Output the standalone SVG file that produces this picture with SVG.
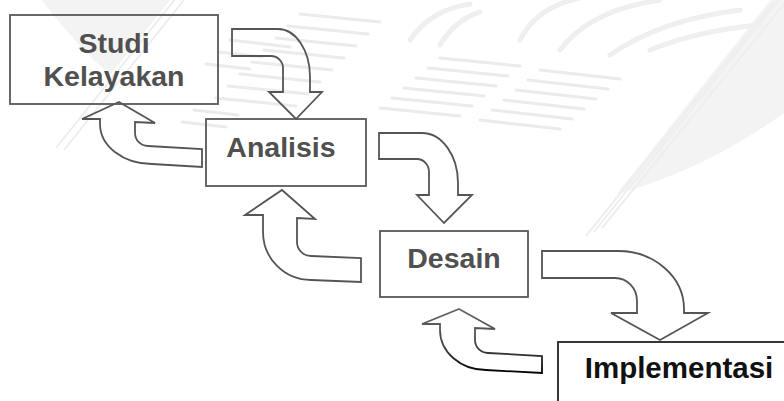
<svg xmlns="http://www.w3.org/2000/svg" width="784" height="401" viewBox="0 0 784 401">
<defs>
<style>
.box{fill:none;stroke:#595959;stroke-width:1.8}
.lbl{font-family:"Liberation Sans",Arial,sans-serif;font-weight:bold;font-size:28.5px;fill:#505050;text-anchor:middle}
.arr{fill:none;stroke:#555;stroke-width:1.8;stroke-linejoin:miter}
.wm{fill:none;stroke:#ebebeb;stroke-width:3;stroke-linecap:round}
.wme{fill:none;stroke:#eeeeee;stroke-width:2}
</style>
<linearGradient id="g6" x1="0" y1="0" x2="0" y2="1">
<stop offset="0" stop-color="#666"/>
<stop offset="0.6" stop-color="#444"/>
<stop offset="1" stop-color="#000"/>
</linearGradient>
</defs>
<rect width="784" height="401" fill="#fff"/>
<g id="watermark">
<circle cx="470" cy="-319" r="534" fill="#f3f3f3"/>
<path d="M50,150 L172,-2 L772,-2 L582,238 L360,226 Q300,218 250,230 Z" fill="#fff"/>
<g class="wme">
<path d="M586,236 L774,2"/><path d="M594,232 L780,-2"/><path d="M602,228 L784,4"/>
<path d="M56,148 L176,-2"/><path d="M64,150 L184,0"/>
</g>
<g class="wm">
<path d="M540,70 L620,79"/><path d="M528,80 L608,89"/><path d="M516,90 L596,99"/><path d="M504,100 L584,109"/><path d="M492,110 L572,119"/><path d="M480,120 L560,129"/>
<path d="M440,58 L520,66"/><path d="M428,68 L508,76"/><path d="M416,78 L496,86"/><path d="M404,88 L484,96"/><path d="M392,98 L472,106"/><path d="M380,108 L460,116"/>
<path d="M300,14 L380,22"/><path d="M288,26 L368,34"/><path d="M276,38 L356,46"/><path d="M264,50 L344,58"/><path d="M252,62 L332,70"/><path d="M240,74 L320,82"/><path d="M228,86 L308,94"/><path d="M216,98 L296,106"/>
<path d="M230,40 L290,47"/><path d="M218,52 L262,57"/><path d="M206,64 L250,69"/><path d="M194,110 L238,115"/><path d="M182,122 L226,127"/>
</g>
<g fill="none" stroke="#efefef" stroke-width="5" stroke-linecap="round">
<path d="M410,40 Q430,10 470,4"/><path d="M440,45 Q455,20 480,12"/>
<path d="M520,40 Q540,0 600,-5"/><path d="M560,50 Q590,10 660,0"/><path d="M610,55 Q660,20 740,10"/><path d="M650,50 Q700,30 760,25"/>
</g>
</g>
<g id="connectors">
<path class="arr" d="M232,29 L278,29 A32,48 0 0 1 310,77 L310,92 L322,92 L296,119 L269,92 L283,92 L283,68 A12,12 0 0 0 271,56 L232,56 Z"/>
<path class="arr" d="M119,102 L155,123 L135,122 L135,133 A13,13 0 0 0 148,146 L202,149 L202,167 L152,164 A52,40 0 0 1 100,124 L100,119 L82,119 Z"/>
<path class="arr" d="M379,133 L422,133 A36,50 0 0 1 458,183 L458,195 L472,195 L444,223 L417,195 L429,195 L429,172 A12,13 0 0 0 417,159 L379,159 Z"/>
<path class="arr" d="M282,190 L315,219 L297,218 L297,242 A14,14 0 0 0 311,256 L361,258 L361,282 L311,280 A48,48 0 0 1 263,232 L263,215 L245,215 Z"/>
<path class="arr" d="M542,251 L618,251 A66,58 0 0 1 684,309 L684,313 L708,313 L660,340 L611,313 L637,313 L637,301 A22,23 0 0 0 615,278 L542,278 Z"/>
<path class="arr" style="stroke:url(#g6)" d="M459,309 L495,329 L475,328 L475,340 A13,13 0 0 0 488,353 L542,356 L542,373 L486,370 A46,40 0 0 1 440,330 L440,324 L422,324 Z"/>
</g>
<g id="studi">
<rect class="box" x="10" y="15" width="208" height="89"/>
<text class="lbl" x="114" y="53">Studi</text>
<text class="lbl" x="114" y="86">Kelayakan</text>
</g>
<g id="analisis">
<rect class="box" x="206" y="119" width="160" height="67"/>
<text class="lbl" x="281" y="157">Analisis</text>
</g>
<g id="desain">
<rect class="box" x="380" y="231" width="148" height="66"/>
<text class="lbl" x="454" y="268">Desain</text>
</g>
<g id="implementasi">
<rect x="558" y="342" width="240" height="80" fill="#fff" stroke="#222" stroke-width="1.8"/>
<text class="lbl" x="679" y="378" style="fill:#111;font-size:29.5px">Implementasi</text>
</g>
</svg>
